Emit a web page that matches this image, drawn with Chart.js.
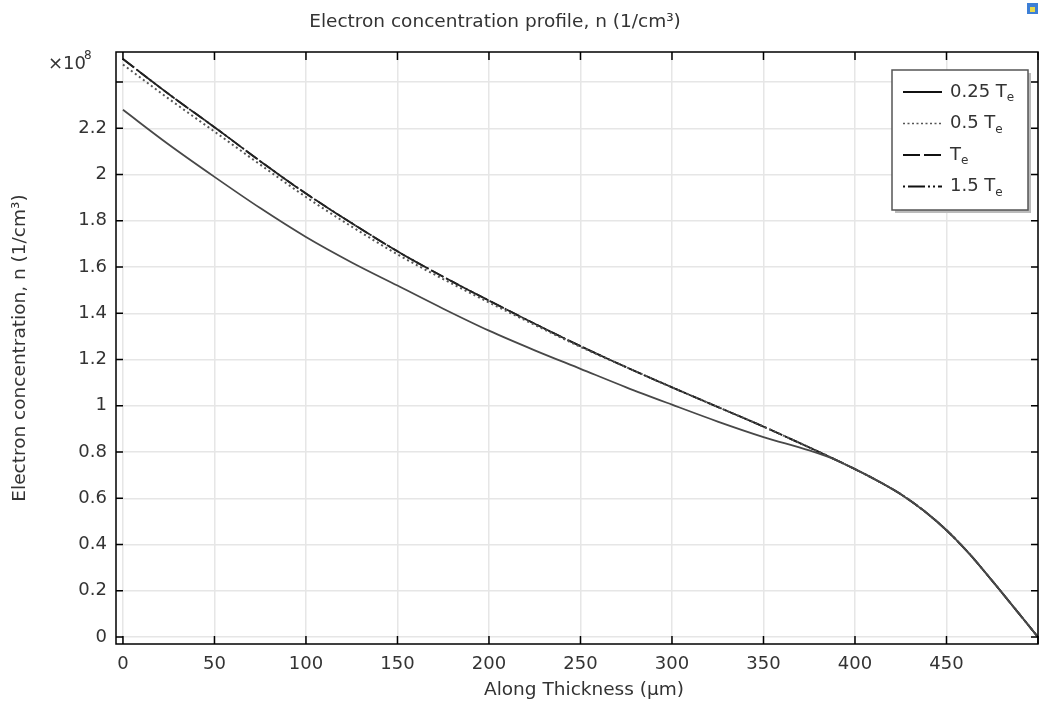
<!DOCTYPE html>
<html>
<head>
<meta charset="utf-8">
<script src="https://cdn.jsdelivr.net/npm/chart.js@4.4.1/dist/chart.umd.min.js"></script>
<style>
  body { margin: 0; background: #fff; }
  #wrap { width: 1039px; height: 703px; position: relative; }
</style>
</head>
<body>
<div id="wrap"><canvas id="c" width="1039" height="703"></canvas></div>
<script>
// along thickness (um)
const thickness = [0, 25, 50, 75, 100, 125, 150, 175, 200, 225, 250, 275, 300, 325, 350, 375, 387.5, 400, 412.5, 425, 437.5, 450, 462.5, 475, 487.5, 500]
// electron concentration, x1e8 1/cm3
const n025 = [2.28, 2.13, 1.99, 1.855, 1.73, 1.62, 1.52, 1.42, 1.325, 1.24, 1.16, 1.08, 1.005, 0.932, 0.865, 0.807, 0.772, 0.726, 0.675, 0.618, 0.547, 0.462, 0.36, 0.243, 0.122, 0]
const n05 = [2.476, 2.328, 2.186, 2.043, 1.903, 1.775, 1.655, 1.548, 1.447, 1.35, 1.255, 1.167, 1.08, 0.995, 0.91, 0.82, 0.774, 0.726, 0.675, 0.618, 0.547, 0.462, 0.36, 0.243, 0.122, 0]
const n1 = [2.5, 2.348, 2.205, 2.058, 1.918, 1.79, 1.668, 1.558, 1.455, 1.355, 1.258, 1.167, 1.08, 0.995, 0.91, 0.82, 0.774, 0.726, 0.675, 0.618, 0.547, 0.462, 0.36, 0.243, 0.122, 0]
const n15 = [2.5, 2.348, 2.205, 2.058, 1.918, 1.79, 1.668, 1.558, 1.455, 1.355, 1.258, 1.167, 1.08, 0.995, 0.91, 0.82, 0.774, 0.726, 0.675, 0.618, 0.547, 0.462, 0.36, 0.243, 0.122, 0]
const legendNames = ['0.25 T', '0.5 T', 'T', '1.5 T']  // each followed by subscript e

const font = 'DejaVu Sans'
const txt = '#333'

const pts = ys => thickness.map((x, i) => ({x: x, y: ys[i]}))

const series = [
  {data: n025, color: '#484848', dash: [], w: 1.8, key: []},
  {data: n05, color: '#555', dash: [2, 3], w: 2, key: [2, 2.5]},
  {data: n1, color: '#222', dash: [14, 3], w: 1.8, key: [17, 4]},
  {data: n15, color: '#222', dash: [14, 3, 2, 3], w: 1.8, key: [2, 3, 17, 3, 2, 3]}
]

const decor = {
  id: 'decor',
  afterDraw(chart) {
    const ctx = chart.ctx
    const a = chart.chartArea
    const xs = chart.scales.x, ys = chart.scales.y
    ctx.save()
    // frame
    ctx.strokeStyle = '#000'
    ctx.lineWidth = 1.5
    ctx.strokeRect(a.left, a.top, a.right - a.left, a.bottom - a.top)
    // inward ticks
    ctx.beginPath()
    xs.ticks.forEach(t => {
      const px = xs.getPixelForValue(t.value)
      ctx.moveTo(px, a.bottom); ctx.lineTo(px, a.bottom - 8)
      ctx.moveTo(px, a.top); ctx.lineTo(px, a.top + 8)
    })
    ys.ticks.forEach(t => {
      const py = ys.getPixelForValue(t.value)
      ctx.moveTo(a.left, py); ctx.lineTo(a.left + 7, py)
      ctx.moveTo(a.right, py); ctx.lineTo(a.right - 7, py)
    })
    ctx.stroke()

    ctx.fillStyle = txt
    // title
    ctx.font = '18.5px "' + font + '"'
    ctx.textAlign = 'center'
    ctx.textBaseline = 'alphabetic'
    ctx.fillText('Electron concentration profile, n (1/cm³)', 495, 27)
    // x title
    ctx.fillText('Along Thickness (µm)', 584, 695)
    // y title
    ctx.save()
    ctx.translate(25, (a.top + a.bottom) / 2)
    ctx.rotate(-Math.PI / 2)
    ctx.fillText('Electron concentration, n (1/cm³)', 0, 0)
    ctx.restore()
    // multiplier
    ctx.textAlign = 'left'
    ctx.font = '18px "' + font + '"'
    ctx.fillText('×10', 48, 69)
    ctx.font = '12px "' + font + '"'
    ctx.fillText('8', 84, 59)

    // legend
    const bx = a.right - 146, by = a.top + 18, bw = 136, bh = 140
    ctx.fillStyle = '#bbb'
    ctx.fillRect(bx + 3, by + 3, bw, bh)
    ctx.fillStyle = '#fff'
    ctx.fillRect(bx, by, bw, bh)
    ctx.strokeStyle = '#555'
    ctx.lineWidth = 1.5
    ctx.strokeRect(bx, by, bw, bh)
    series.forEach((s, i) => {
      const ry = by + 22 + i * 31.5
      ctx.strokeStyle = i == 1 ? '#555' : '#111'
      ctx.lineWidth = i == 1 ? 1.5 : 2
      ctx.setLineDash(s.key)
      ctx.beginPath()
      ctx.moveTo(bx + 11, ry); ctx.lineTo(bx + 50, ry)
      ctx.stroke()
      ctx.setLineDash([])
      ctx.fillStyle = txt
      ctx.font = '18px "' + font + '"'
      ctx.textBaseline = 'middle'
      ctx.fillText(legendNames[i], bx + 58, ry)
      const w = ctx.measureText(legendNames[i]).width
      ctx.font = '12px "' + font + '"'
      ctx.fillText('e', bx + 58 + w, ry + 6)
    })
    // corner icon
    ctx.fillStyle = '#3d7fd6'
    ctx.fillRect(1027, 3, 11, 11)
    ctx.fillStyle = '#e8d84a'
    ctx.fillRect(1030, 7, 5, 5)
    ctx.restore()
  }
}

new Chart(document.getElementById('c').getContext('2d'), {
  type: 'line',
  data: {
    datasets: series.map((s, i) => ({
      label: legendNames[i] + 'ₑ',
      data: pts(s.data),
      borderColor: s.color,
      borderWidth: s.w,
      borderDash: s.dash,
      pointRadius: 0,
      fill: false,
      cubicInterpolationMode: 'monotone'
    }))
  },
  options: {
    responsive: false,
    animation: false,
    layout: {padding: {top: 52, right: 1, left: 0, bottom: 0}},
    plugins: {legend: {display: false}, tooltip: {enabled: false}},
    scales: {
      x: {
        type: 'linear',
        min: -3.8,
        max: 500,
        afterFit: s => { s.height = 59; s.paddingRight = 0; s.paddingLeft = 0 },
        grid: {color: '#e6e6e6', lineWidth: 1.5, drawTicks: false},
        border: {display: false},
        ticks: {
          stepSize: 50,
          includeBounds: false,
          padding: 10,
          color: txt,
          font: {family: font, size: 18},
          maxRotation: 0,
          callback: v => v == 500 ? '' : v
        }
      },
      y: {
        min: -0.03,
        max: 2.53,
        afterFit: s => { s.width = 116; s.paddingTop = 0; s.paddingBottom = 0 },
        grid: {color: '#e6e6e6', lineWidth: 1.5, drawTicks: false},
        border: {display: false},
        ticks: {
          stepSize: 0.2,
          includeBounds: false,
          padding: 9,
          color: txt,
          font: {family: font, size: 18},
          callback: v => Math.abs(v - 2.4) < 1e-6 ? '' : +v.toFixed(1)
        }
      }
    }
  },
  plugins: [decor]
})
</script>
</body>
</html>
